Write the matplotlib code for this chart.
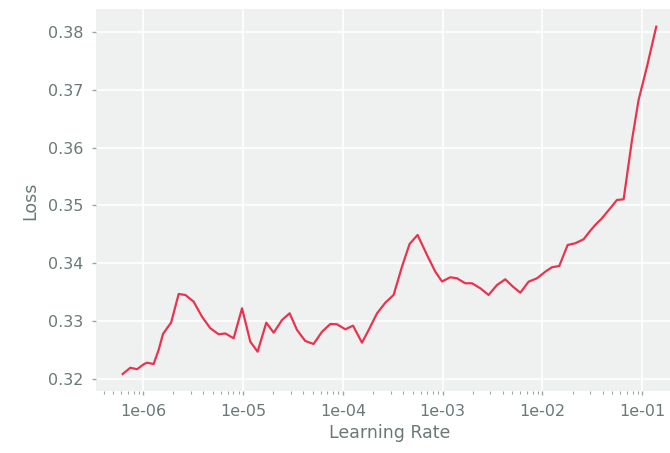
import matplotlib
matplotlib.use("Agg")
import matplotlib.pyplot as plt
from matplotlib.ticker import LogLocator, FuncFormatter
import numpy as np

# learning-rate finder results (log10 of lr, smoothed loss)
log_lr = [
    -6.207, -6.130, -6.063, -5.997, -5.963, -5.897, -5.847, -5.803, -5.763, -5.722,
    -5.646, -5.579, -5.496, -5.412, -5.329, -5.245, -5.178, -5.095, -5.011, -4.928,
    -4.855, -4.768, -4.694, -4.610, -4.534, -4.460, -4.377, -4.294, -4.209, -4.126,
    -4.059, -3.976, -3.899, -3.809, -3.742, -3.658, -3.575, -3.492, -3.408, -3.332,
    -3.252, -3.157, -3.074, -3.007, -2.924, -2.857, -2.774, -2.706, -2.623, -2.540,
    -2.456, -2.373, -2.296, -2.222, -2.139, -2.055, -1.972, -1.905, -1.832, -1.748,
    -1.671, -1.588, -1.521, -1.471, -1.404, -1.321, -1.254, -1.187, -1.103, -1.037,
    -0.953, -0.860,
]
losses = [
    0.32086, 0.32195, 0.32168, 0.32254, 0.32282, 0.32259, 0.32501, 0.32778, 0.32877, 0.32974,
    0.33470, 0.33453, 0.33337, 0.33077, 0.32877, 0.32773, 0.32787, 0.32704, 0.33223, 0.32645,
    0.32472, 0.32974, 0.32801, 0.33020, 0.33136, 0.32847, 0.32657, 0.32605, 0.32818, 0.32951,
    0.32946, 0.32859, 0.32922, 0.32628, 0.32847, 0.33136, 0.33319, 0.33453, 0.33942, 0.34334,
    0.34490, 0.34144, 0.33855, 0.33686, 0.33759, 0.33741, 0.33655, 0.33655, 0.33568, 0.33453,
    0.33625, 0.33724, 0.33596, 0.33492, 0.33683, 0.33741, 0.33855, 0.33932, 0.33954, 0.34317,
    0.34347, 0.34416, 0.34564, 0.34663, 0.34779, 0.34952, 0.35095, 0.35107, 0.36133, 0.36825,
    0.37400, 0.38092,
]
lrs = [10 ** v for v in log_lr]

text_color = "#6b7878"
plt.rcParams["font.family"] = "DejaVu Sans"

fig = plt.figure(figsize=(6.7, 4.53), dpi=100)
ax = fig.add_axes([0.1433, 0.136, 0.876, 0.8435])
ax.set_facecolor("#eff1f1")
ax.plot(lrs, losses, color="#e8344e", linewidth=1.6)
ax.set_xscale("log")

ax.xaxis.set_major_locator(LogLocator(base=10, numticks=20))
ax.xaxis.set_major_formatter(FuncFormatter(lambda v, p: f"{v:.0e}"))
ax.xaxis.set_minor_locator(LogLocator(base=10, subs=np.arange(2, 10), numticks=20))
ax.set_yticks([0.32, 0.33, 0.34, 0.35, 0.36, 0.37, 0.38])

ax.grid(True, which="major", color="white", linewidth=1.2)
ax.set_axisbelow(True)
for s in ax.spines.values():
    s.set_visible(False)

ax.tick_params(axis="both", which="major", labelsize=11.5, labelcolor=text_color,
               color="#9aa5a5", length=3, width=1, pad=6)
ax.tick_params(axis="x", which="minor", color="#9aa5a5", length=2, width=0.8)
ax.set_xlabel("Learning Rate", fontsize=12.5, color=text_color, labelpad=4)
ax.set_ylabel("Loss", fontsize=12.5, color=text_color, labelpad=6)

fig.savefig("out.png", dpi=100)
